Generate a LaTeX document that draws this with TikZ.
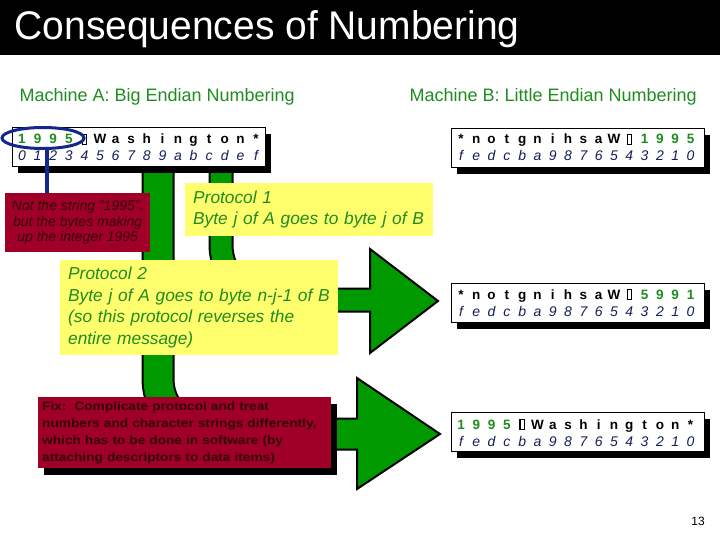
\documentclass[tikz,border=0pt]{standalone}
\usepackage{fontspec}
\setmainfont{Liberation Sans}
\newfontfamily\titlefont[FakeStretch=0.975]{Liberation Sans}
\newfontfamily\fixfont[FakeStretch=1.14]{Liberation Sans}
\usetikzlibrary{shapes.geometric,shadows}

\definecolor{pipegreen}{RGB}{0,153,0}
\definecolor{textgreen}{RGB}{30,140,30}
\definecolor{notered}{RGB}{160,0,40}
\definecolor{notetext}{RGB}{50,0,8}
\definecolor{noteyellow}{RGB}{255,255,110}
\definecolor{ringblue}{RGB}{20,40,140}
\definecolor{indexblue}{RGB}{20,30,90}

\newcommand{\nulbyte}{{\setlength{\fboxsep}{0pt}\setlength{\fboxrule}{1.3pt}\fbox{\rule{0pt}{9pt}\hspace{3pt}}}}

\tikzset{
  bytebox/.style={draw, thick, fill=white, anchor=north west, inner sep=0pt,
    minimum width=253pt, minimum height=39pt,
    drop shadow={shadow xshift=6pt, shadow yshift=-7pt, fill=black, opacity=1}},
  bytech/.style={anchor=base, inner sep=0pt, font=\fontsize{13.5}{13.5}\selectfont\bfseries},
  digitch/.style={bytech, text=textgreen},
  idxch/.style={anchor=base, inner sep=0pt, text=indexblue, font=\fontsize{14}{14}\selectfont\itshape},
  heading/.style={anchor=west, text=textgreen, font=\fontsize{18}{18}\selectfont},
  protobox/.style={fill=noteyellow, anchor=north west, inner xsep=8pt, align=left,
    text=textgreen, font=\fontsize{17.3}{21.5}\selectfont\itshape},
  redbox/.style={fill=notered, anchor=north west, text=notetext},
}

\begin{document}
\begin{tikzpicture}[x=1pt, y=-1pt]
    \useasboundingbox (0,0) rectangle (720,540);

    % title bar
    \fill[black] (0,0) rectangle (720,55);
    \node[anchor=west, text=white, font=\titlefont\fontsize{40}{40}\selectfont] (title) at (11,29) {Consequences of Numbering};

    \node[heading] (headA) at (16,97) {Machine A: Big Endian Numbering};
    \node[heading] (headB) at (406,97) {Machine B: Little Endian Numbering};

    % green pipes (outline first, then head, then fill)
    \draw[line width=25pt, black, rounded corners=55pt] (221,160) -- (221,300) -- (371,300);
    \draw[line width=33pt, black, rounded corners=55pt] (158,160) -- (158,434) -- (358,434);
    \filldraw[fill=pipegreen, draw=black, line width=2pt] (370,249) -- (438,301) -- (370,353) -- cycle;
    \filldraw[fill=pipegreen, draw=black, line width=2pt] (357,378) -- (440,434) -- (357,489) -- cycle;
    \draw[line width=21pt, pipegreen, rounded corners=55pt] (221,160) -- (221,300) -- (374,300);
    \draw[line width=29pt, pipegreen, rounded corners=55pt] (158,160) -- (158,434) -- (361,434);

    % machine A
    \node[bytebox] (boxA) at (12,127) {};
    \foreach \c [count=\i from 0] in {1,9,9,5}
        \node[digitch] (a-top-\i) at ({22+15.6*\i},144) {\c};
    \foreach \c [count=\i from 4] in {\nulbyte,W,a,s,h,i,n,g,t,o,n,*}
        \node[bytech] (a-top-\i) at ({22+15.6*\i},144) {\c};
    \foreach \c [count=\i from 0] in {0,1,2,3,4,5,6,7,8,9,a,b,c,d,e,f}
        \node[idxch] (a-idx-\i) at ({22+15.6*\i},161) {\c};

    % machine B, three outcomes
    \node[bytebox] (boxB1) at (451,128) {};
    \foreach \c [count=\i from 0] in {*,n,o,t,g,n,i,h,s,a,W,\nulbyte}
        \node[bytech] (b1-top-\i) at ({461+15.3*\i},144) {\c};
    \foreach \c [count=\i from 12] in {1,9,9,5}
        \node[digitch] (b1-top-\i) at ({461+15.3*\i},144) {\c};
    \foreach \c [count=\i from 0] in {f,e,d,c,b,a,9,8,7,6,5,4,3,2,1,0}
        \node[idxch] (b1-idx-\i) at ({461+15.3*\i},161) {\c};

    \node[bytebox] (boxB2) at (451,283) {};
    \foreach \c [count=\i from 0] in {*,n,o,t,g,n,i,h,s,a,W,\nulbyte}
        \node[bytech] (b2-top-\i) at ({461+15.3*\i},299) {\c};
    \foreach \c [count=\i from 12] in {5,9,9,1}
        \node[digitch] (b2-top-\i) at ({461+15.3*\i},299) {\c};
    \foreach \c [count=\i from 0] in {f,e,d,c,b,a,9,8,7,6,5,4,3,2,1,0}
        \node[idxch] (b2-idx-\i) at ({461+15.3*\i},316) {\c};

    \node[bytebox] (boxB3) at (451,412) {};
    \foreach \c [count=\i from 0] in {1,9,9,5}
        \node[digitch] (b3-top-\i) at ({461+15.3*\i},429) {\c};
    \foreach \c [count=\i from 4] in {\nulbyte,W,a,s,h,i,n,g,t,o,n,*}
        \node[bytech] (b3-top-\i) at ({461+15.3*\i},429) {\c};
    \foreach \c [count=\i from 0] in {f,e,d,c,b,a,9,8,7,6,5,4,3,2,1,0}
        \node[idxch] (b3-idx-\i) at ({461+15.3*\i},446) {\c};

    % note on the integer
    \node[redbox, minimum width=145pt, minimum height=59pt, inner sep=0pt, align=center,
          font=\fontsize{14}{15.5}\selectfont\itshape] (note) at (5,193)
        {Not the string "1995",\\but the bytes making\\up the integer 1995};
    \node[draw=ringblue, line width=3pt, ellipse, minimum width=82pt, minimum height=21pt,
          inner sep=0pt] (ring) at (43,138) {};
    \draw[ringblue, line width=4pt] (ring.south) ++(4,0) coordinate (ringfoot) -- (ringfoot |- note.north);

    % protocols
    \node[protobox, minimum width=248pt, minimum height=53pt, text width=232pt] (proto1) at (185,183)
        {Protocol 1\\Byte j of A goes to byte j of B};
    \node[protobox, minimum width=278pt, minimum height=95pt, text width=262pt] (proto2) at (60,260)
        {Protocol 2\\Byte j of A goes to byte n-j-1 of B\\(so this protocol reverses the\\entire message)};

    % the fix
    \node[redbox, minimum width=293pt, minimum height=71pt, inner xsep=4pt, text width=285pt, align=left,
          font=\fixfont\fontsize{12}{17}\selectfont\bfseries,
          drop shadow={shadow xshift=6pt, shadow yshift=-7pt, fill=black, opacity=1}] (fix) at (38,397)
        {Fix:\ \ Complicate protocol and treat\\numbers and character strings differently,\\which has to be done in software (by\\attaching descriptors to data items)};

    \node[font=\fontsize{12}{12}\selectfont] (pagenum) at (698,521) {13};
\end{tikzpicture}
\end{document}
